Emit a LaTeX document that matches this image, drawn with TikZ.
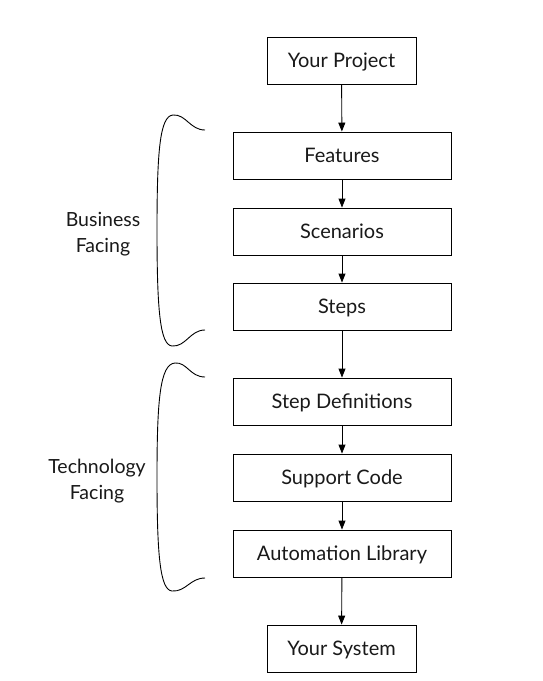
\documentclass[tikz,border=0pt]{standalone}
\usepackage{fontspec}
\setmainfont{Lato}
\usetikzlibrary{arrows.meta}
\tikzset{
  box/.style={draw=black, line width=0.9pt, minimum height=47pt, inner sep=0pt, font=\fontsize{20}{24}\selectfont, text=black!90, text height=14pt, text depth=0pt},
  wide/.style={box, minimum width=218pt},
  narrow/.style={box, minimum width=149pt},
  flow/.style={draw=black, line width=0.9pt, -{Triangle[length=9pt,width=7pt]}},
  brace/.style={draw=black, line width=0.9pt},
  side/.style={align=center, font=\fontsize{19.5}{25.5}\selectfont, text=black!90}
}
\begin{document}
\begin{tikzpicture}[x=1pt,y=-1pt]
\useasboundingbox (0,0) rectangle (542,681);
\node[narrow] (proj) at (341.5,60.5) {Your Project};
\node[wide] (feat) at (342,155.5) {Features};
\node[wide] (scen) at (342,231.5) {Scenarios};
\node[wide] (steps) at (342,306.5) {Steps};
\node[wide] (sdef) at (342,401.5) {Step Definitions};
\node[wide] (supp) at (342,477.5) {Support Code};
\node[wide] (auto) at (342,553.5) {Automation Library};
\node[narrow] (sys) at (341.5,648.5) {Your System};
\draw[flow] (proj) -- (feat);
\draw[flow] (feat) -- (scen);
\draw[flow] (scen) -- (steps);
\draw[flow] (steps) -- (sdef);
\draw[flow] (sdef) -- (supp);
\draw[flow] (supp) -- (auto);
\draw[flow] (auto) -- (sys);
\coordinate (b1a) at (205,130);
\coordinate (b1b) at (205,330);
\coordinate (b2a) at (205,377);
\coordinate (b2b) at (205,578);
\draw[brace] (b1a) .. controls (190,130) and (186,114) .. (173,115)
  .. controls (160,116) and (157,150) .. (157,230)
  .. controls (157,310) and (160,345) .. (172,346)
  .. controls (186,347) and (190,330) .. (b1b);
\draw[brace] (b2a) .. controls (190,377) and (187,362) .. (175,363)
  .. controls (160,364) and (157,400) .. (157,477)
  .. controls (157,555) and (160,590) .. (172,591)
  .. controls (186,592) and (190,578) .. (b2b);
\node[side] (bf) at (103,234) {Business\\Facing};
\node[side] (tf) at (97,481) {Technology\\Facing};
\end{tikzpicture}
\end{document}
